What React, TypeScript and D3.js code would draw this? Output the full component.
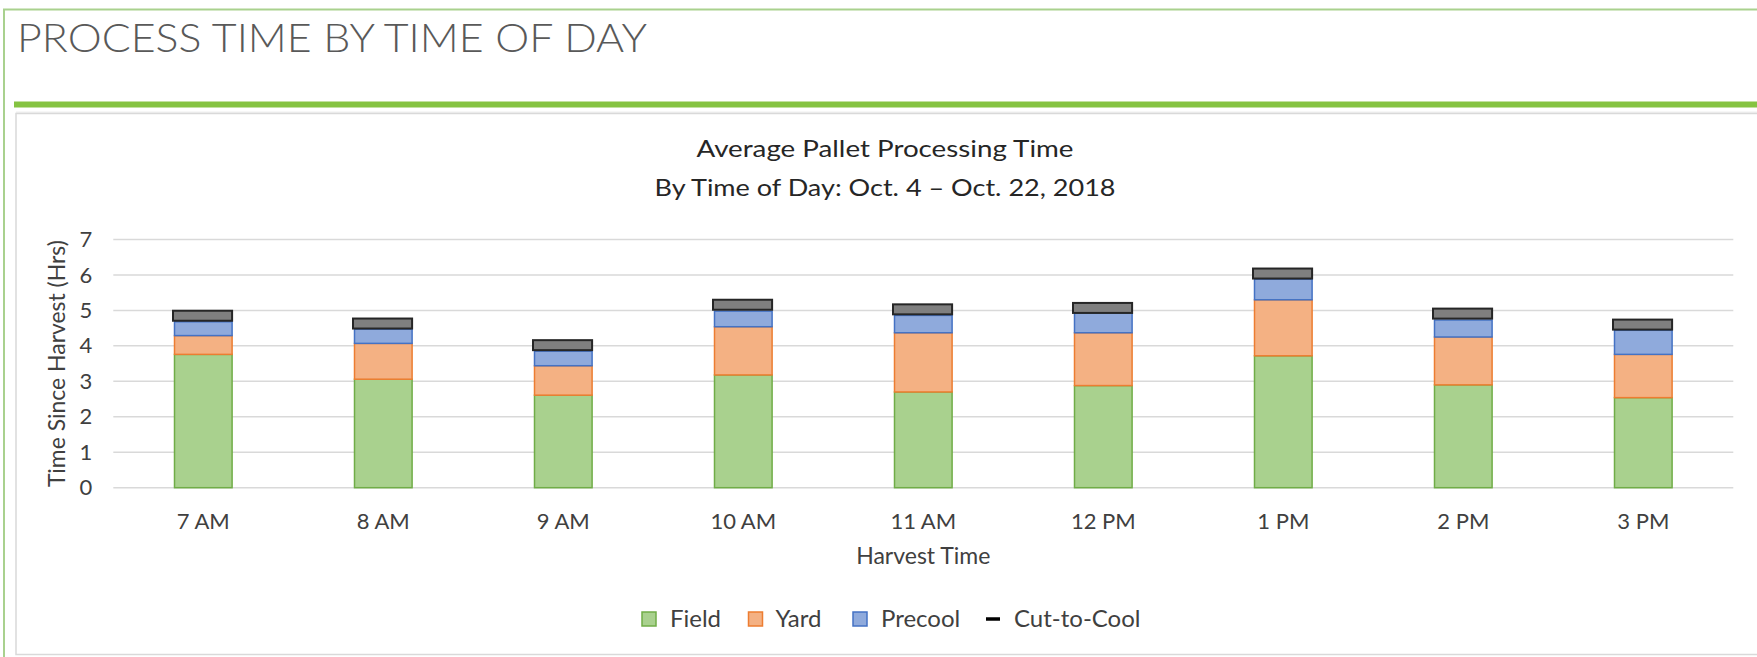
import React, { useRef, useEffect } from 'react';
import * as d3 from 'd3';

// harvest hours on the x axis
const hours = ['7 AM', '8 AM', '9 AM', '10 AM', '11 AM', '12 PM', '1 PM', '2 PM', '3 PM'];
// hours spent in each stage (stacked)
const field = [3.76, 3.06, 2.61, 3.18, 2.70, 2.88, 3.72, 2.90, 2.54];
const yard = [0.53, 1.01, 0.83, 1.36, 1.67, 1.49, 1.58, 1.35, 1.22];
const precool = [0.39, 0.40, 0.41, 0.44, 0.49, 0.55, 0.58, 0.48, 0.68];
// total cut-to-cool time (marker)
const cutToCool = [4.85, 4.63, 4.02, 5.16, 5.03, 5.07, 6.04, 4.91, 4.60];
const yTicks = [0, 1, 2, 3, 4, 5, 6, 7];
const stageNames = ['Field', 'Yard', 'Precool'];

const fills = { Field: '#a9d18e', Yard: '#f4b183', Precool: '#8faadc' };
const strokes = { Field: '#70ad47', Yard: '#ed7d31', Precool: '#4472c4' };

const FONT = 'Lato, "Open Sans", sans-serif';

const App = () => {
  const ref = useRef<SVGSVGElement>(null);

  useEffect(() => {
    const svg = d3.select(ref.current);
    svg.selectAll('*').remove();

    // page frame
    svg.append('rect')
      .attr('x', 4).attr('y', 9.5).attr('width', 1800).attr('height', 700)
      .attr('fill', 'white').attr('stroke', '#a9d18e').attr('stroke-width', 2);

    svg.append('text')
      .attr('x', 17).attr('y', 52)
      .attr('font-family', FONT).attr('font-weight', 300).attr('font-size', 39)
      .attr('fill', '#595959')
      .attr('textLength', 630).attr('lengthAdjust', 'spacingAndGlyphs')
      .text('PROCESS TIME BY TIME OF DAY');

    svg.append('rect')
      .attr('x', 14).attr('y', 101.5).attr('width', 1760).attr('height', 6)
      .attr('fill', '#85c341');

    // chart box
    svg.append('rect')
      .attr('x', 16).attr('y', 111.5).attr('width', 1760).attr('height', 4)
      .attr('fill', '#f0f0f0');
    svg.append('rect')
      .attr('x', 16).attr('y', 113.5).attr('width', 1760).attr('height', 541)
      .attr('fill', 'white').attr('stroke', '#d9d9d9').attr('stroke-width', 1.5);

    const x = d3.scaleBand()
      .domain(hours)
      .range([113.3, 1733.3])
      .paddingInner(0.68)
      .paddingOuter(0.34);

    const y = d3.scaleLinear()
      .domain([0, 7])
      .range([487.7, 239.5]);

    // gridlines
    svg.append('g')
      .selectAll('line')
      .data(yTicks)
      .enter()
      .append('line')
      .attr('x1', 113.3).attr('x2', 1733.3)
      .attr('y1', d => y(d)).attr('y2', d => y(d))
      .attr('stroke', '#d9d9d9').attr('stroke-width', 1.5);

    const yAxis = svg.append('g')
      .attr('transform', 'translate(113.3,0)')
      .call(d3.axisLeft(y).tickValues(yTicks).tickSize(0).tickPadding(21).tickFormat(d3.format('d')));
    yAxis.select('.domain').remove();
    yAxis.selectAll('text')
      .attr('font-family', FONT).attr('font-size', 22).attr('fill', '#404040');

    const xAxis = svg.append('g')
      .attr('transform', 'translate(0,487.7)')
      .call(d3.axisBottom(x).tickSize(0));
    xAxis.select('.domain').remove();
    xAxis.selectAll('text')
      .attr('dy', null).attr('y', 41.5)
      .attr('font-family', FONT).attr('font-size', 22).attr('fill', '#404040');

    // stacked bars
    const table = hours.map((h, i) => ({ hour: h, Field: field[i], Yard: yard[i], Precool: precool[i] }));
    const stacked = d3.stack().keys(stageNames)(table as any);

    svg.append('g')
      .selectAll('g')
      .data(stacked)
      .enter()
      .append('g')
      .attr('fill', d => fills[d.key])
      .attr('stroke', d => strokes[d.key])
      .attr('stroke-width', 1.5)
      .selectAll('rect')
      .data(d => d)
      .enter()
      .append('rect')
      .attr('x', d => x(d.data.hour))
      .attr('y', d => y(d[1]))
      .attr('width', x.bandwidth())
      .attr('height', d => y(d[0]) - y(d[1]));

    // cut-to-cool markers
    svg.append('g')
      .selectAll('rect')
      .data(cutToCool)
      .enter()
      .append('rect')
      .attr('x', (d, i) => x(hours[i]) - 1.5)
      .attr('y', d => y(d) - 5)
      .attr('width', x.bandwidth() + 1.5)
      .attr('height', 10)
      .attr('fill', '#7f7f7f')
      .attr('stroke', '#262626')
      .attr('stroke-width', 2);

    // titles
    const title = svg.append('g')
      .attr('font-family', FONT).attr('font-size', 24).attr('fill', '#262626')
      .attr('text-anchor', 'middle');
    title.append('text').attr('x', 885).attr('y', 157)
      .attr('textLength', 377).attr('lengthAdjust', 'spacingAndGlyphs')
      .text('Average Pallet Processing Time');
    title.append('text').attr('x', 885).attr('y', 196)
      .attr('textLength', 461).attr('lengthAdjust', 'spacingAndGlyphs')
      .text('By Time of Day: Oct. 4 – Oct. 22, 2018');

    svg.append('text')
      .attr('transform', 'translate(65,363.6) rotate(-90)')
      .attr('text-anchor', 'middle')
      .attr('font-family', FONT).attr('font-size', 23).attr('fill', '#404040')
      .attr('textLength', 247).attr('lengthAdjust', 'spacingAndGlyphs')
      .text('Time Since Harvest (Hrs)');

    svg.append('text')
      .attr('x', 923.3).attr('y', 564)
      .attr('text-anchor', 'middle')
      .attr('font-family', FONT).attr('font-size', 23).attr('fill', '#404040')
      .text('Harvest Time');

    // legend
    const legendItems = [
      { name: 'Field', x: 642, tx: 670 },
      { name: 'Yard', x: 748.5, tx: 775.5 },
      { name: 'Precool', x: 853, tx: 881 },
    ];
    const legend = svg.append('g');
    legendItems.forEach(item => {
      legend.append('rect')
        .attr('x', item.x).attr('y', 612).attr('width', 14).attr('height', 14)
        .attr('fill', fills[item.name]).attr('stroke', strokes[item.name]).attr('stroke-width', 1.5);
      legend.append('text')
        .attr('x', item.tx).attr('y', 627)
        .attr('font-family', FONT).attr('font-size', 24).attr('fill', '#404040')
        .text(item.name);
    });
    legend.append('line')
      .attr('x1', 986).attr('x2', 1000).attr('y1', 619).attr('y2', 619)
      .attr('stroke', 'black').attr('stroke-width', 3.5);
    legend.append('text')
      .attr('x', 1014).attr('y', 627)
      .attr('font-family', FONT).attr('font-size', 24).attr('fill', '#404040')
      .text('Cut-to-Cool');
  }, []);

  return (
    <div style={{ position: 'absolute', left: 0, top: 0 }}>
      <svg ref={ref} width={1757} height={657} style={{ display: 'block' }}></svg>
    </div>
  );
};

export default App;
